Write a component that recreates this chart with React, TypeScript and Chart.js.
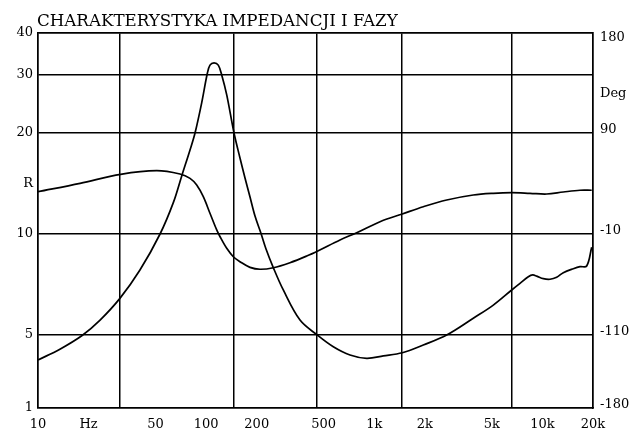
import { useEffect, useRef } from 'react';
import { Chart, registerables } from 'chart.js';

Chart.register(...registerables);

const TITLE = 'CHARAKTERYSTYKA IMPEDANCJI I FAZY';

// X axis (frequency, Hz)
const X_TICKS = [10, 20, 50, 100, 200, 500, 1000, 2000, 5000, 10000, 20000];
const X_LABELS = ['10', 'Hz', '50', '100', '200', '500', '1k', '2k', '5k', '10k', '20k'];
const X_GRID = [10, 30.7, 145, 456, 1456, 6534, 20000];

// Y axes calibration (the printed paper grid)
const IMP_TICKS = [1, 5, 10, 20, 30, 40];
const PHASE_TICKS = [-180, -110, -10, 90, 180];
const PAPER_LEVELS = [0, 73, 174, 275, 333, 375];
const PHASE_LEVELS = [0, 73, 174, 275, 375];
const R_LABEL_AT = 14.1;
const DEG_LABEL_AT = 123;

// Impedance curve (ohm)
const IMP_FREQ = [10, 13.5, 18.3, 23.4, 30.7, 40.4, 53.2, 63.8, 71.6, 80.2, 85.9, 94.1, 101.6, 105.4, 111.4, 118.1, 123.8, 132.6, 146.5, 159, 170.3, 182.4, 195.3, 212.1, 227.1, 250.9, 287.7, 361.7, 458.3, 570.7, 717.3, 901.6, 1132, 1468, 1957, 2697, 3882, 5107, 6570, 7360, 8247, 8760, 9250, 10130, 11100, 12160, 13320, 15270, 16740, 18350, 19650];
const IMP_OHM = [2.88, 3.66, 4.95, 5.54, 6.43, 7.81, 10.0, 12.4, 14.9, 17.8, 20.0, 24.7, 30.3, 32.1, 32.6, 32.1, 30.0, 26.1, 20.0, 16.85, 14.68, 12.89, 11.31, 10.03, 9.02, 7.94, 6.81, 5.54, 5.0, 3.86, 3.22, 2.99, 3.15, 3.38, 4.01, 5.0, 5.61, 6.14, 6.81, 7.13, 7.46, 7.55, 7.49, 7.36, 7.33, 7.43, 7.67, 7.88, 7.99, 8.03, 9.13];

// Phase curve (deg)
const PHASE_FREQ = [10, 17.8, 31.0, 50.8, 69.9, 80.2, 87.9, 96.2, 105.4, 115.6, 121, 132.6, 145.1, 159, 182.4, 209.2, 250.9, 315.3, 396.5, 464.8, 625.6, 786.4, 1082, 1468, 1957, 2697, 3882, 5107, 6570, 8440, 10610, 13320, 16740, 19650];
const PHASE_DEG = [31.9, 40.2, 49.1, 52.7, 49.4, 45.1, 38.5, 26.9, 10.5, -6.0, -12.7, -24.2, -32.5, -37.4, -43.0, -44.9, -43.4, -38.4, -31.8, -26.5, -15.9, -8.7, 2.2, 9.8, 17.0, 23.7, 28.6, 30.3, 30.9, 30.3, 29.6, 31.6, 33.3, 33.3];

function interp(xs: number[], ys: number[], x: number): number {
  let i = 0;
  while (i < xs.length - 2 && x > xs[i + 1]) i++;
  const t = (x - xs[i]) / (xs[i + 1] - xs[i]);
  return ys[i] + t * (ys[i + 1] - ys[i]);
}

const impToPaper = (r: number) => interp(IMP_TICKS.map(Math.log), PAPER_LEVELS, Math.log(r));
const phaseToPaper = (p: number) => interp(PHASE_TICKS, PHASE_LEVELS, p);

const LEFT_TICKS = [
  ...IMP_TICKS.map((r) => ({ value: impToPaper(r), label: String(r), line: true })),
  { value: impToPaper(R_LABEL_AT), label: 'R', line: false },
].sort((a, b) => a.value - b.value);

const RIGHT_TICKS = [
  ...PHASE_TICKS.map((p) => ({ value: phaseToPaper(p), label: String(p) })),
  { value: phaseToPaper(DEG_LABEL_AT), label: 'Deg' },
].sort((a, b) => a.value - b.value);

const FONT = '"DejaVu Serif", serif';

export default function App() {
  const ref = useRef<HTMLCanvasElement | null>(null);

  useEffect(() => {
    if (!ref.current) return;
    const titlePlugin = {
      id: 'paperTitle',
      afterDraw(chart: any) {
        const ctx = chart.ctx;
        ctx.save();
        ctx.font = `16.7px ${FONT}`;
        ctx.fillStyle = '#000';
        ctx.textBaseline = 'alphabetic';
        ctx.textAlign = 'left';
        ctx.fillText(TITLE, chart.chartArea.left - 1, 26);
        ctx.restore();
      },
    };

    const lineStyle = {
      borderColor: '#000',
      borderWidth: 1.7,
      pointRadius: 0,
      fill: false,
      tension: 0.35,
    };

    const chart = new Chart(ref.current, {
      type: 'line',
      data: {
        datasets: [
          {
            label: 'Impedancja',
            data: IMP_FREQ.map((f, i) => ({ x: f, y: impToPaper(IMP_OHM[i]) })),
            xAxisID: 'x',
            yAxisID: 'y',
            ...lineStyle,
          },
          {
            label: 'Faza',
            data: PHASE_FREQ.map((f, i) => ({ x: f, y: phaseToPaper(PHASE_DEG[i]) })),
            xAxisID: 'x',
            yAxisID: 'y2',
            ...lineStyle,
          },
        ],
      },
      options: {
        responsive: false,
        animation: false,
        events: [],
        layout: { padding: { top: 33, left: 0, right: 0, bottom: 0 } },
        plugins: {
          legend: { display: false },
          tooltip: { enabled: false },
          title: { display: false },
        },
        scales: {
          x: {
            type: 'logarithmic',
            position: 'bottom',
            min: 10,
            max: 20000,
            afterBuildTicks: (s: any) => {
              s.ticks = X_TICKS.map((v) => ({ value: v }));
            },
            afterFit: (s: any) => {
              s.height = 23;
            },
            ticks: {
              autoSkip: false,
              maxRotation: 0,
              minRotation: 0,
              padding: 9,
              color: '#000',
              font: { family: FONT, size: 13 },
              callback: (_v: any, i: number) => X_LABELS[i],
            },
            grid: { display: false, drawTicks: false },
            border: { display: true, color: '#000', width: 1.5 },
          },
          xg: {
            type: 'logarithmic',
            position: 'top',
            min: 10,
            max: 20000,
            afterBuildTicks: (s: any) => {
              s.ticks = X_GRID.map((v) => ({ value: v }));
            },
            afterFit: (s: any) => {
              s.height = 0;
            },
            ticks: { display: false },
            grid: { display: true, drawTicks: false, color: '#000', lineWidth: 1.5 },
            border: { display: true, color: '#000', width: 1.5 },
          },
          y: {
            type: 'linear',
            position: 'left',
            min: PAPER_LEVELS[0],
            max: PAPER_LEVELS[PAPER_LEVELS.length - 1],
            afterBuildTicks: (s: any) => {
              s.ticks = LEFT_TICKS.map((t) => ({ value: t.value }));
            },
            afterFit: (s: any) => {
              s.width = 38;
            },
            ticks: {
              padding: 5,
              color: '#000',
              font: { family: FONT, size: 13 },
              callback: (_v: any, i: number) => LEFT_TICKS[i].label,
            },
            grid: {
              drawTicks: false,
              lineWidth: 1.5,
              color: (ctx: any) =>
                ctx.index !== undefined && LEFT_TICKS[ctx.index] && !LEFT_TICKS[ctx.index].line
                  ? 'rgba(0,0,0,0)'
                  : '#000',
            },
            border: { display: true, color: '#000', width: 1.5 },
          },
          y2: {
            type: 'linear',
            position: 'right',
            min: PAPER_LEVELS[0],
            max: PAPER_LEVELS[PAPER_LEVELS.length - 1],
            afterBuildTicks: (s: any) => {
              s.ticks = RIGHT_TICKS.map((t) => ({ value: t.value }));
            },
            afterFit: (s: any) => {
              s.width = 44;
            },
            ticks: {
              padding: 7,
              labelOffset: -3,
              color: '#000',
              font: { family: FONT, size: 13 },
              callback: (_v: any, i: number) =>
                i === RIGHT_TICKS.length - 1 ? ['', RIGHT_TICKS[i].label] : RIGHT_TICKS[i].label,
            },
            grid: { display: false, drawTicks: false },
            border: { display: true, color: '#000', width: 1.5 },
          },
        },
      } as any,
      plugins: [titlePlugin],
    });
    return () => chart.destroy();
  }, []);

  return (
    <div style={{ position: 'absolute', left: 0, top: 0, width: 637, height: 431, background: '#fff' }}>
      <canvas ref={ref} width={637} height={431} style={{ display: 'block' }} />
    </div>
  );
}
